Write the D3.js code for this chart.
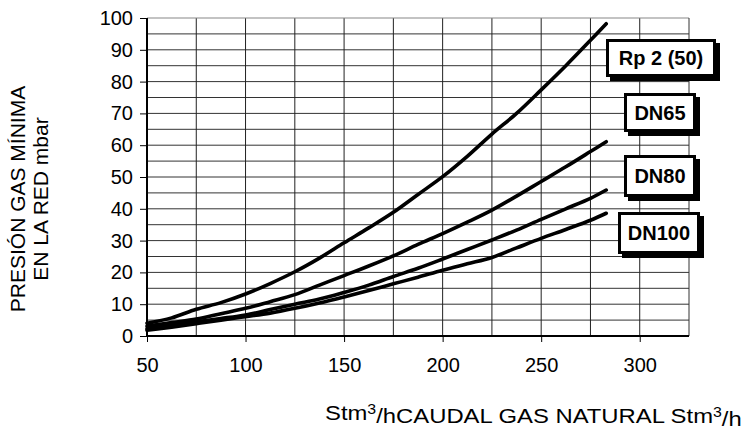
<!DOCTYPE html>
<html>
<head>
<meta charset="utf-8">
<script src="https://cdn.jsdelivr.net/npm/d3@7"></script>
<style>
  body { margin: 0; background: #fff; }
  text { font-family: "Liberation Sans", Arial, sans-serif; }
</style>
</head>
<body>
<div id="chart"></div>
<script>
// data
const flow = [50, 62.5, 75, 87.5, 100, 112.5, 125, 137.5, 150, 162.5, 175, 187.5, 200, 212.5, 225, 237.5, 250, 262.5, 275, 283];
const rp2   = [4.0, 5.7, 8.4, 10.5, 13.2, 16.5, 20.2, 24.5, 29.3, 34.0, 38.9, 44.5, 50.1, 56.5, 63.5, 70.0, 77.4, 85.0, 93.0, 98.2];
const dn65  = [3.1, 4.2, 5.3, 7.0, 8.7, 10.8, 13.0, 16.0, 19.0, 22.0, 25.2, 28.8, 32.2, 35.8, 39.6, 44.0, 48.6, 53.2, 58.0, 61.1];
const dn80  = [2.3, 3.4, 4.5, 5.5, 6.6, 8.3, 10.0, 11.6, 13.7, 16.0, 18.7, 21.3, 24.2, 27.2, 30.2, 33.3, 36.7, 40.0, 43.3, 45.9];
const dn100 = [1.8, 2.8, 3.9, 5.0, 6.1, 7.2, 8.7, 10.4, 12.3, 14.3, 16.4, 18.5, 20.7, 22.7, 24.7, 27.7, 30.7, 33.5, 36.4, 38.6];
const seriesNames = ["Rp 2 (50)", "DN65", "DN80", "DN100"];
const xTicks = [50, 100, 150, 200, 250, 300];
const yTicks = [0, 10, 20, 30, 40, 50, 60, 70, 80, 90, 100];
const xGrid = [75, 100, 125, 150, 175, 200, 225, 250, 275, 300];
const yGrid = [5, 10, 15, 20, 25, 30, 35, 40, 45, 50, 55, 60, 65, 70, 75, 80, 85, 90, 95];

//chart dimensions
const margin = {top: 18, right: 60, bottom: 94, left: 147};
const W = 749, H = 430;
const width = W - margin.left - margin.right;
const height = H - margin.top - margin.bottom;

const svg = d3.select("#chart").append("svg")
  .attr("width", W)
  .attr("height", H);
const g = svg.append("g")
  .attr("transform", "translate(" + margin.left + "," + margin.top + ")");

// scales
const x = d3.scaleLinear().domain([50, 325]).range([0, width]);
const y = d3.scaleLinear().domain([0, 100]).range([height, 0]);

// gridlines
g.selectAll("line.hgrid")
  .data(yGrid)
  .enter().append("line")
  .attr("class", "hgrid")
  .attr("x1", 0).attr("x2", width)
  .attr("y1", d => y(d)).attr("y2", d => y(d))
  .style("stroke", "#333").style("stroke-width", 1);
g.selectAll("line.vgrid")
  .data(xGrid)
  .enter().append("line")
  .attr("class", "vgrid")
  .attr("x1", d => x(d)).attr("x2", d => x(d))
  .attr("y1", 0).attr("y2", height)
  .style("stroke", "#222").style("stroke-width", 1);
// frame top + right
g.append("line").attr("x1", 0).attr("x2", width).attr("y1", 0).attr("y2", 0)
  .style("stroke", "#888").style("stroke-width", 1.2);
g.append("line").attr("x1", width).attr("x2", width).attr("y1", 0).attr("y2", height)
  .style("stroke", "#333").style("stroke-width", 1);

// axes
const xAxis = d3.axisBottom(x).tickValues(xTicks).tickSize(6).tickPadding(16);
const yAxis = d3.axisLeft(y).tickValues(yTicks).tickSize(7).tickPadding(7);

const gx = g.append("g")
  .attr("transform", "translate(0," + height + ")")
  .call(xAxis);
gx.select(".domain").attr("d", "M0,0H" + width).style("stroke", "#000").style("stroke-width", 2);
gx.selectAll(".tick line").style("stroke", "#000");
gx.selectAll("text").style("font-size", "20px").style("fill", "#000");

const gy = g.append("g").call(yAxis);
gy.select(".domain").attr("d", "M0," + height + "V0").style("stroke", "#000").style("stroke-width", 2);
gy.selectAll(".tick line").style("stroke", "#000");
gy.selectAll("text").style("font-size", "20px").style("fill", "#000");

// curves
const line = d3.line()
  .x((d, i) => x(flow[i]))
  .y(d => y(d))
  .curve(d3.curveCatmullRom);
[rp2, dn65, dn80, dn100].forEach(s => {
  g.append("path")
    .datum(s)
    .attr("d", line)
    .style("fill", "none")
    .style("stroke", "#000")
    .style("stroke-width", 3.6)
    .style("stroke-linejoin", "round")
    .style("stroke-linecap", "round");
});

// label boxes with shadow
const boxes = [
  {x: 606, y: 39, w: 110, h: 38},
  {x: 624, y: 93, w: 72, h: 39},
  {x: 624, y: 155, w: 72, h: 42},
  {x: 618, y: 212, w: 82, h: 42}
];
boxes.forEach((b, i) => {
  svg.append("rect")
    .attr("x", b.x + 4).attr("y", b.y + 4).attr("width", b.w).attr("height", b.h)
    .style("fill", "#000");
  svg.append("rect")
    .attr("x", b.x + 1.5).attr("y", b.y + 1.5).attr("width", b.w - 3).attr("height", b.h - 3)
    .style("fill", "#fff").style("stroke", "#000").style("stroke-width", 3);
  svg.append("text")
    .attr("x", b.x + b.w / 2)
    .attr("y", b.y + b.h / 2)
    .attr("dy", "0.36em")
    .style("text-anchor", "middle")
    .style("font-size", "20px")
    .style("font-weight", "bold")
    .text(seriesNames[i]);
});

// y title
const yt = svg.append("text")
  .attr("transform", "translate(25,199) rotate(-90)")
  .style("text-anchor", "middle")
  .style("font-size", "21px");
yt.append("tspan").attr("x", 0).attr("y", 0).text("PRESIÓN GAS MÍNIMA");
yt.append("tspan").attr("x", 0).attr("y", 23).text("EN LA RED mbar");

// x title
const xt = svg.append("text")
  .attr("x", 0).attr("y", 0)
  .style("font-size", "21px");
xt.append("tspan").text("Stm");
xt.append("tspan").attr("dy", "-0.45em").style("font-size", "14px").text("3");
xt.append("tspan").attr("dy", "0.45em").text("/hCAUDAL GAS NATURAL Stm");
xt.append("tspan").attr("dy", "-0.45em").style("font-size", "14px").text("3");
xt.append("tspan").attr("dy", "0.45em").text("/h");
const bw = xt.node().getBBox().width;
const sx = 417 / bw;
xt.attr("transform", "translate(325,420) scale(" + sx + ",1)");
</script>
</body>
</html>
